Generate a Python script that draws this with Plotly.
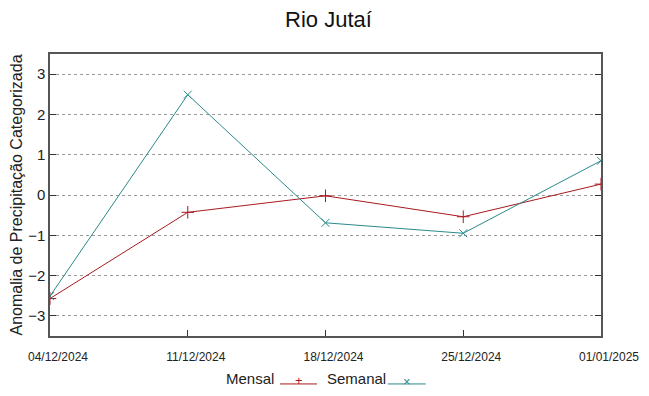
import plotly.graph_objects as go

dates = ["2024-12-04", "2024-12-11", "2024-12-18", "2024-12-25", "2025-01-01"]
tick_labels = ["04/12/2024", "11/12/2024", "18/12/2024", "25/12/2024", "01/01/2025"]
mensal = [-2.57, -0.43, -0.02, -0.54, 0.27]
semanal = [-2.51, 2.49, -0.69, -0.95, 0.85]
y_ticks = [-3, -2, -1, 0, 1, 2, 3]

RED = "#a8191e"
TEAL = "#2a8a8a"
FONT = "Liberation Sans"

fig = go.Figure()
fig.add_trace(go.Scatter(
    x=dates, y=mensal, name="Mensal", mode="lines+markers",
    line=dict(color=RED, width=1),
    marker=dict(symbol="cross-thin", size=9, line=dict(color=RED, width=1)),
    showlegend=False))
fig.add_trace(go.Scatter(
    x=dates, y=semanal, name="Semanal", mode="lines+markers",
    line=dict(color=TEAL, width=1),
    marker=dict(symbol="x-thin", size=8, line=dict(color=TEAL, width=1)),
    showlegend=False))

# legend drawn text-first like the reference
ly = -0.170
fig.add_annotation(x=0.4100, y=ly, xref="paper", yref="paper", text="Mensal", yshift=-5,
                   showarrow=False, xanchor="right", font=dict(family=FONT, size=15, color="#222"))
fig.add_shape(type="line", xref="paper", yref="paper", x0=0.4174, x1=0.4846, y0=ly, y1=ly,
              line=dict(color=RED, width=1))
fig.add_annotation(x=0.451, y=ly, xref="paper", yref="paper", text="+", yshift=-6,
                   showarrow=False, font=dict(family=FONT, size=13, color=RED))
fig.add_annotation(x=0.499, y=ly, xref="paper", yref="paper", text="Semanal", yshift=-5,
                   showarrow=False, xanchor="left", font=dict(family=FONT, size=15, color="#222"))
fig.add_shape(type="line", xref="paper", yref="paper", x0=0.613, x1=0.682, y0=ly, y1=ly,
              line=dict(color=TEAL, width=1))
fig.add_annotation(x=0.648, y=ly, xref="paper", yref="paper", text="×", yshift=-7,
                   showarrow=False, font=dict(family=FONT, size=13, color=TEAL))

# page body has an 8px default margin; compensate so the plot lands where the reference has it
fig.update_layout(
    width=641, height=388,
    margin=dict(l=42, r=48, t=46, b=60),
    paper_bgcolor="white", plot_bgcolor="white",
    font=dict(family=FONT, color="#222"),
    title=dict(text="Rio Jutaí", x=0.5, xanchor="center", y=1 - 11 / 388, yanchor="middle",
               font=dict(family=FONT, size=22, color="#111")),
    xaxis=dict(
        range=[dates[0], dates[-1]], tickvals=dates, ticktext=tick_labels,
        showgrid=False, zeroline=False, automargin=False,
        showline=True, linecolor="#555", linewidth=1.5, mirror=True,
        ticks="inside", ticklen=6, tickcolor="#333",
        ticklabelstandoff=9, ticklabelshift=8,
        tickfont=dict(family=FONT, size=12, color="#222"),
    ),
    yaxis=dict(
        range=[-3.5, 3.5], tickvals=y_ticks, automargin=False,
        showgrid=True, gridcolor="#9a9a9a", griddash="dot", gridwidth=1,
        zeroline=False,
        showline=True, linecolor="#555", linewidth=1.5, mirror="allticks",
        ticks="inside", ticklen=6, tickcolor="#333",
        tickfont=dict(family=FONT, size=15, color="#222"),
        title=dict(text="Anomalia de Precipitação Categorizada", standoff=3,
                   font=dict(family=FONT, size=16, color="#222")),
    ),
)

fig.write_html("out.html")
